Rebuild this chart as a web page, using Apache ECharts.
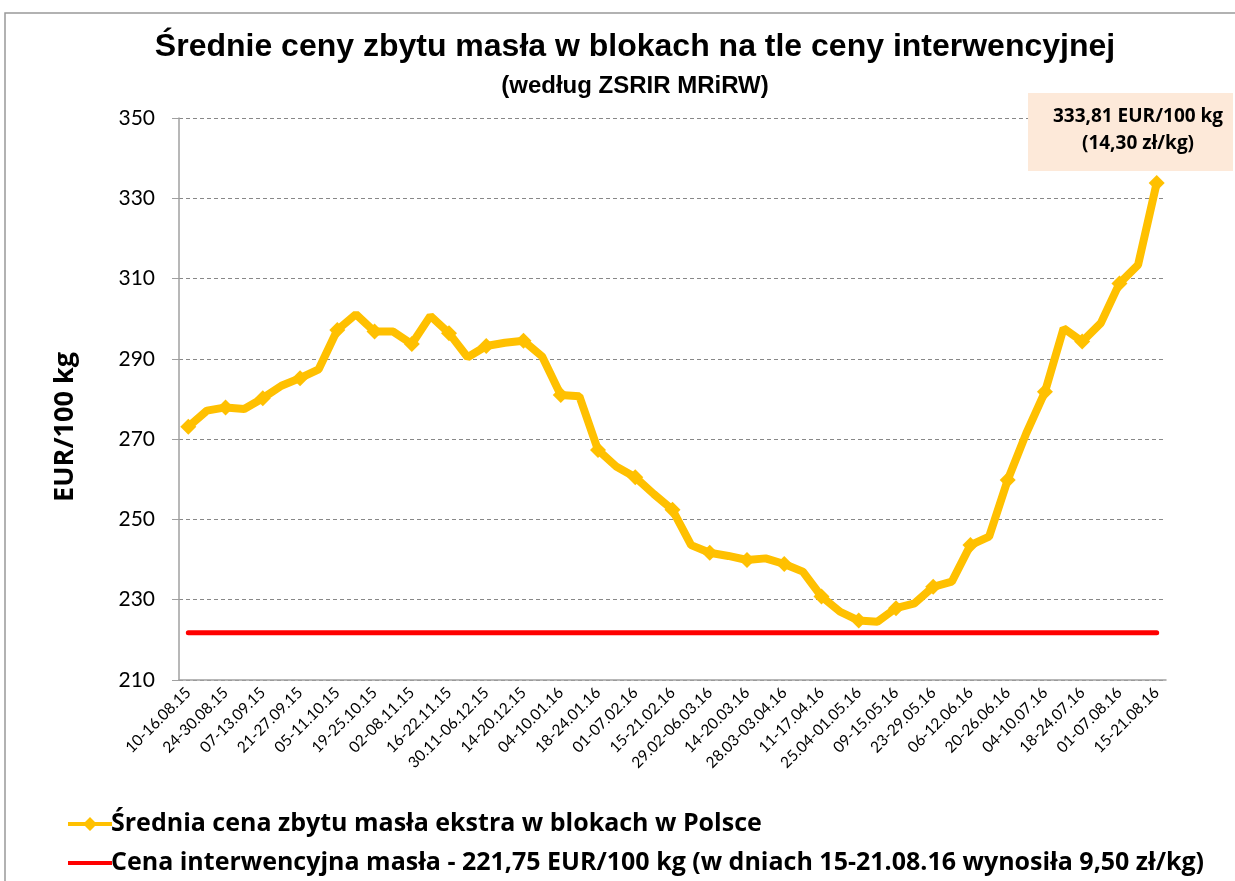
<!DOCTYPE html>
<html>
<head>
<meta charset="utf-8">
<script src="https://cdn.jsdelivr.net/npm/echarts@6/dist/echarts.min.js"></script>
<style>
  html, body { margin: 0; padding: 0; background: #fff; }
  #chart { width: 1235px; height: 881px; }
</style>
</head>
<body>
<div id="chart"></div>
<script>
// Weeks (one week around new year missing in the source)
const weeks = [
  '10-16.08.15', '17-23.08.15', '24-30.08.15', '31.08-06.09.15', '07-13.09.15', '14-20.09.15',
  '21-27.09.15', '28.09-04.10.15', '05-11.10.15', '12-18.10.15', '19-25.10.15', '26.10-01.11.15',
  '02-08.11.15', '09-15.11.15', '16-22.11.15', '23-29.11.15', '30.11-06.12.15', '07-13.12.15',
  '14-20.12.15', '21-27.12.15', '04-10.01.16', '11-17.01.16', '18-24.01.16', '25-31.01.16',
  '01-07.02.16', '08-14.02.16', '15-21.02.16', '22-28.02.16', '29.02-06.03.16', '07-13.03.16',
  '14-20.03.16', '21-27.03.16', '28.03-03.04.16', '04-10.04.16', '11-17.04.16', '18-24.04.16',
  '25.04-01.05.16', '02-08.05.16', '09-15.05.16', '16-22.05.16', '23-29.05.16', '30.05-05.06.16',
  '06-12.06.16', '13-19.06.16', '20-26.06.16', '27.06-03.07.16', '04-10.07.16', '11-17.07.16',
  '18-24.07.16', '25-31.07.16', '01-07.08.16', '08-14.08.16', '15-21.08.16'
];

// Average butter price (EUR/100 kg)
const butterPrice = [
  273.1, 277.1, 277.9, 277.5, 280.2, 283.3, 285.2, 287.4, 297.2, 301.1,
  296.8, 296.8, 293.7, 300.7, 296.4, 290.4, 293.2, 294.0, 294.5, 290.6,
  281.0, 280.7, 267.3, 263.1, 260.5, 256.3, 252.4, 243.6, 241.7, 240.9,
  239.9, 240.3, 238.9, 237.0, 230.8, 227.0, 224.8, 224.5, 227.9, 229.1,
  233.2, 234.5, 243.6, 245.7, 259.8, 271.5, 281.8, 297.6, 294.3, 298.9,
  308.8, 313.4, 333.81
];

const interventionPrice = 221.75;
const interventionLine = weeks.map(() => interventionPrice);

var chartDom = document.getElementById('chart');
var myChart = echarts.init(chartDom);
var option;

option = {
  animation: false,
  backgroundColor: '#fff',
  title: [
    {
      text: 'Średnie ceny zbytu masła w blokach na tle ceny interwencyjnej',
      left: 630,
      top: 26,
      textAlign: 'center',
      textStyle: { fontFamily: 'Liberation Sans', fontSize: 32, fontWeight: 'bold', color: '#000' }
    },
    {
      text: '(według ZSRIR MRiRW)',
      left: 630,
      top: 69,
      textAlign: 'center',
      textStyle: { fontFamily: 'Liberation Sans', fontSize: 24, fontWeight: 'bold', color: '#000' }
    }
  ],
  legend: {
    orient: 'vertical',
    left: 68,
    top: 806,
    padding: 0,
    itemGap: 3,
    itemWidth: 44,
    itemHeight: 14,
    textStyle: { fontFamily: 'Open Sans', fontSize: 25, lineHeight: 36, fontWeight: 'bold', color: '#000', padding: [0, 0, 0, -6] },
    data: [
      { name: 'Średnia cena zbytu masła ekstra w blokach w Polsce', icon: 'path://M0,5 L17,5 L22,0 L27,5 L44,5 L44,9 L27,9 L22,14 L17,9 L0,9 Z' },
      { name: 'Cena interwencyjna masła - 221,75 EUR/100 kg (w dniach 15-21.08.16 wynosiła 9,50 zł/kg)', icon: 'path://M0,5 L44,5 L44,9 L0,9 Z' }
    ]
  },
  grid: { left: 179, right: 69, top: 118, bottom: 201 },
  xAxis: {
    type: 'category',
    data: weeks,
    boundaryGap: true,
    axisLine: { lineStyle: { color: '#a0a0a0', width: 1.5 } },
    axisTick: { interval: 0, length: 6, lineStyle: { color: '#a0a0a0' } },
    axisLabel: {
      interval: 1,
      rotate: 45,
      fontFamily: 'Lato',
      fontSize: 15.5,
      color: '#000',
      margin: 10
    }
  },
  yAxis: {
    type: 'value',
    min: 210,
    max: 350,
    interval: 20,
    axisLine: { show: true, lineStyle: { color: '#a0a0a0', width: 1.5 } },
    axisTick: { show: true, inside: false, length: 7, lineStyle: { color: '#a0a0a0' } },
    axisLabel: {
      fontFamily: 'Lato',
      fontSize: 21,
      color: '#000',
      margin: 24
    },
    splitLine: { lineStyle: { color: '#888', type: [4, 3], width: 1 } }
  },
  series: [
    {
      name: 'Średnia cena zbytu masła ekstra w blokach w Polsce',
      type: 'line',
      data: butterPrice,
      z: 3,
      symbol: 'diamond',
      symbolSize: 16,
      itemStyle: { color: '#FFC000' },
      lineStyle: { color: '#FFC000', width: 8 }
    },
    {
      name: 'Cena interwencyjna masła - 221,75 EUR/100 kg (w dniach 15-21.08.16 wynosiła 9,50 zł/kg)',
      type: 'line',
      data: interventionLine,
      z: 2,
      symbol: 'none',
      itemStyle: { color: '#FF0000' },
      lineStyle: { color: '#FF0000', width: 5, cap: 'round' }
    }
  ],
  graphic: [
    {
      type: 'rect',
      silent: true,
      shape: { x: 5, y: 13, width: 1300, height: 950 },
      style: { fill: 'none', stroke: '#999', lineWidth: 1.5 }
    },
    {
      type: 'text',
      rotation: Math.PI / 2,
      x: 65,
      y: 427,
      style: {
        text: 'EUR/100 kg',
        align: 'center',
        verticalAlign: 'middle',
        font: 'bold 27px "Open Sans"',
        fill: '#000'
      }
    },
    {
      type: 'rect',
      shape: { x: 1028, y: 93, width: 205, height: 78 },
      style: { fill: '#FDE9D9' },
      z: 10
    },
    {
      type: 'text',
      z: 11,
      style: {
        x: 1138, y: 130,
        text: '333,81 EUR/100 kg\n(14,30 zł/kg)',
        align: 'center',
        verticalAlign: 'middle',
        lineHeight: 27,
        font: 'bold 19px "Open Sans"',
        fill: '#000'
      }
    }
  ]
};

option && myChart.setOption(option);
</script>
</body>
</html>
